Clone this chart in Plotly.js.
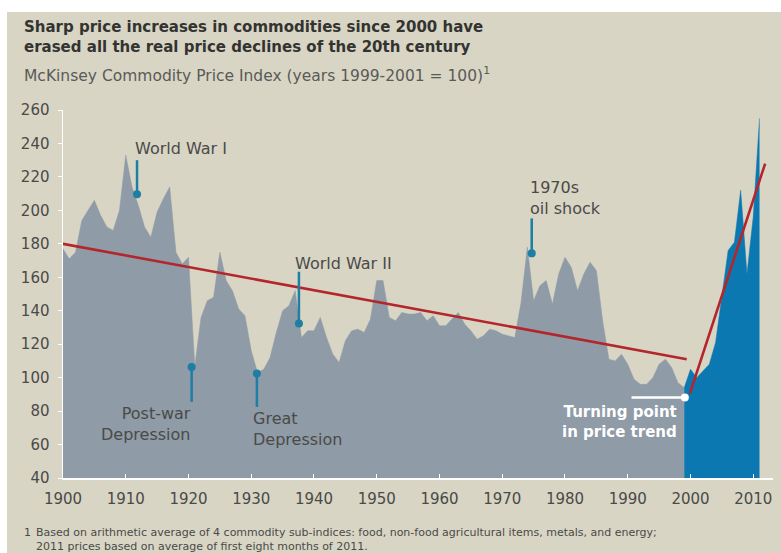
<!DOCTYPE html>
<html>
<head>
<meta charset="utf-8">
<script src="https://cdn.plot.ly/plotly-3.0.1.min.js"></script>
<style>
  html, body { margin: 0; padding: 0; background: #ffffff; }
  #chart { position: absolute; left: 7px; top: 12px; width: 774px; height: 541px; }
</style>
</head>
<body>
<div id="chart"></div>
<script>
// ---------- DATA ----------
const years = [
  1900,1901,1902,1903,1904,1905,1906,1907,1908,1909,
  1910,1911,1912,1913,1914,1915,1916,1917,1918,1919,
  1920,1921,1922,1923,1924,1925,1926,1927,1928,1929,
  1930,1931,1932,1933,1934,1935,1936,1937,1938,1939,
  1940,1941,1942,1943,1944,1945,1946,1947,1948,1949,
  1950,1951,1952,1953,1954,1955,1956,1957,1958,1959,
  1960,1961,1962,1963,1964,1965,1966,1967,1968,1969,
  1970,1971,1972,1973,1974,1975,1976,1977,1978,1979,
  1980,1981,1982,1983,1984,1985,1986,1987,1988,1989,
  1990,1991,1992,1993,1994,1995,1996,1997,1998,1999,
  2000,2001,2002,2003,2004,2005,2006,2007,2008,2009,
  2010,2011
];
const indexValues = [
  177,171,175,194,200,206,197,190,188,200,
  233,214,203,190,184,199,207,214,175,168,
  172,107,136,146,148,175,158,152,141,137,
  116,103,105,112,127,140,143,152,124,128,
  128,136,124,114,109,122,128,129,127,135,
  158,158,136,134,139,138,138,139,134,137,
  131,131,135,139,132,128,123,125,129,128,
  126,125,124,145,178,146,155,158,144,162,
  172,166,152,162,169,164,134,111,110,114,
  108,99,96,96,100,108,111,106,97,94,
  105,100,104,108,121,148,176,181,212,162,
  196,255
];
const turningYear = 1999;

// Trend lines
const declineTrendYears = [1900, 1999.4];
const declineTrendValues = [180, 111];
const riseTrendYears = [1999.9, 2011.9];
const riseTrendValues = [90.5, 228];

// Event callouts
const eventLabels = ["World War I", "Post-war<br>Depression", "Great<br>Depression", "World War II", "1970s<br>oil shock"];
const eventYears = [1911.8, 1920.5, 1930.9, 1937.6, 1974.7];
const eventValues = [209.7, 106.4, 102.5, 132.4, 174.3];
const eventStemEnds = [230, 85.5, 82.5, 163.3, 195.2];

const turningPointYear = 1999.1;
const turningPointValue = 88.1;
const turningLineStartYear = 1990.6;

const xTickVals = [1900,1910,1920,1930,1940,1950,1960,1970,1980,1990,2000,2010];
const yTickVals = [40,60,80,100,120,140,160,180,200,220,240,260];

// ---------- LAYOUT HELPERS (page pixel -> paper coords) ----------
const DIV_L = 7, DIV_T = 12, M_L = 56, M_T = 98, PLOT_W = 710, PLOT_H = 367.7;
function px(x) { return (x - DIV_L - M_L) / PLOT_W; }
function py(y) { return 1 - (y - DIV_T - M_T) / PLOT_H; }

const grayYears = [], grayVals = [], blueYears = [], blueVals = [];
years.forEach((y, i) => {
  if (y <= turningYear) { grayYears.push(y); grayVals.push(indexValues[i]); }
  if (y >= turningYear) { blueYears.push(y); blueVals.push(indexValues[i]); }
});

const FONT = '"DejaVu Sans", Verdana, sans-serif';
const TEAL = '#1c7fa3';
const TEXT = '#4a4a48';

const traces = [
  { x: grayYears, y: grayVals, type: 'scatter', mode: 'lines', fill: 'tozeroy',
    fillcolor: '#8f9ba6', line: { color: '#8f9ba6', width: 0.5 }, hoverinfo: 'skip' },
  { x: blueYears, y: blueVals, type: 'scatter', mode: 'lines', fill: 'tozeroy',
    fillcolor: '#0b78b2', line: { color: '#0b78b2', width: 0.5 }, hoverinfo: 'skip' },
  { x: declineTrendYears, y: declineTrendValues, type: 'scatter', mode: 'lines',
    line: { color: '#b3262b', width: 2.6 }, hoverinfo: 'skip' },
  { x: riseTrendYears, y: riseTrendValues, type: 'scatter', mode: 'lines',
    line: { color: '#b3262b', width: 2.6 }, hoverinfo: 'skip' },
  { x: eventYears, y: eventValues, type: 'scatter', mode: 'markers',
    marker: { color: TEAL, size: 8 }, hoverinfo: 'skip' },
  { x: [turningLineStartYear, turningPointYear], y: [turningPointValue, turningPointValue],
    type: 'scatter', mode: 'lines', line: { color: '#ffffff', width: 2.5 }, hoverinfo: 'skip' },
  { x: [turningPointYear], y: [turningPointValue], type: 'scatter', mode: 'markers',
    marker: { color: '#ffffff', size: 8 }, hoverinfo: 'skip' }
];

const shapes = eventYears.map((yr, i) => ({
  type: 'line', xref: 'x', yref: 'y', x0: yr, x1: yr, y0: eventValues[i], y1: eventStemEnds[i],
  line: { color: TEAL, width: 2.5 }, layer: 'above'
}));

const EV = { size: 16, color: TEXT, family: FONT };
const annotations = [
  { text: '<b>Sharp price increases in commodities since 2000 have<br>erased all the real price declines of the 20th century</b>',
    x: px(22), y: py(37.5), align: 'left', font: { size: 15, color: '#333331', family: FONT } },
  { text: 'McKinsey Commodity Price Index (years 1999-2001 = 100)<sup>1</sup>', x: px(22), y: py(75),
    font: { size: 15.5, color: '#5a5a58', family: FONT } },
  { text: eventLabels[0], x: px(133), y: py(148), font: EV },
  { text: eventLabels[1], x: px(193), y: py(424), xanchor: 'right', align: 'right', font: EV },
  { text: eventLabels[2], x: px(251), y: py(429), align: 'left', font: EV },
  { text: eventLabels[3], x: px(293), y: py(263), font: EV },
  { text: eventLabels[4], x: px(528), y: py(198), align: 'left', font: EV },
  { text: '<b>Turning point<br>in price trend</b>', x: px(679), y: py(422), xanchor: 'right', align: 'right',
    font: { size: 15, color: '#ffffff', family: FONT } },
  { text: '1', x: px(22), y: py(532.5), font: { size: 11, color: TEXT, family: FONT } },
  { text: 'Based on arithmetic average of 4 commodity sub-indices: food, non-food agricultural items, metals, and energy;<br>2011 prices based on average of first eight months of 2011.',
    x: px(34), y: py(539.5), align: 'left', font: { size: 11, color: TEXT, family: FONT } }
].map(a => Object.assign({
  xref: 'paper', yref: 'paper', xanchor: 'left', yanchor: 'middle', showarrow: false
}, a));

const layout = {
  width: 774, height: 541,
  margin: { l: M_L, r: 8, t: M_T, b: 75.3 },
  paper_bgcolor: '#d8d5c4', plot_bgcolor: '#d8d5c4',
  showlegend: false,
  font: { family: FONT, color: TEXT },
  xaxis: {
    range: [1900, 2013.15], tickvals: xTickVals, ticks: 'inside', ticklen: 4, tickcolor: '#ffffff',
    showline: true, linecolor: '#ffffff', linewidth: 1.5, showgrid: false, zeroline: false,
    tickfont: { size: 15, color: TEXT, family: FONT }, ticklabelstandoff: 6
  },
  yaxis: {
    range: [40, 260], tickvals: yTickVals, ticks: 'outside', ticklen: 4, tickcolor: '#ffffff',
    showline: true, linecolor: '#ffffff', linewidth: 1.5, showgrid: false, zeroline: false,
    tickfont: { size: 15, color: TEXT, family: FONT }, ticklabelstandoff: 5
  },
  shapes: shapes,
  annotations: annotations
};

Plotly.newPlot('chart', traces, layout, { displayModeBar: false, staticPlot: true });
</script>
</body>
</html>
